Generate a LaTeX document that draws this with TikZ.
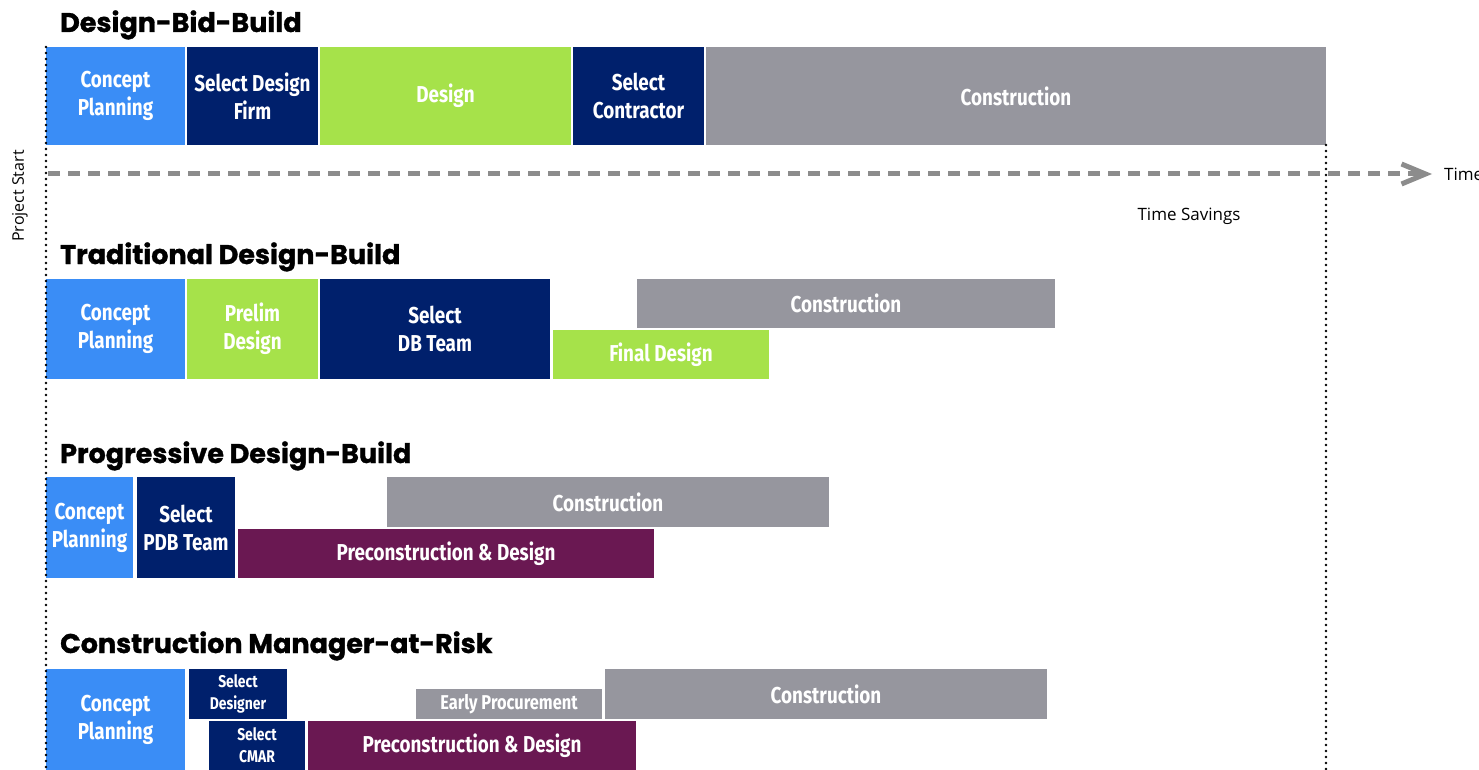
\documentclass[tikz,border=0pt]{standalone}
\usepackage{fontspec}
\usepackage{tikz}
\usetikzlibrary{arrows.meta}
\newfontfamily\headfont[BoldFeatures={FakeBold=1.2}]{Poppins}
\newfontfamily\boxfont[FakeStretch=0.82]{Fira Sans}
\newfontfamily\notefont{Open Sans}
\definecolor{planblue} {RGB} {58, 141, 246}
\definecolor{navy1} {RGB} {0, 32, 108}
\definecolor{lime1} {RGB} {166, 226, 74}
\definecolor{gray1} {RGB} {150, 150, 158}
\definecolor{plum1} {RGB} {106, 24, 82}
\definecolor{arrowgray} {RGB} {140, 140, 140}
\tikzset{
  stagebox/.style={anchor=north west, inner sep=0pt, outer sep=0pt, text=white, align=center,
    font=\boxfont\bfseries\fontsize{23}{28}\selectfont},
  smallbox/.style={stagebox, font=\boxfont\bfseries\fontsize{17}{22}\selectfont},
  rowtitle/.style={anchor=base west, inner sep=0pt, font=\headfont\bfseries\fontsize{27}{32}\selectfont},
  notetext/.style={inner sep=0pt, font=\notefont\fontsize{17}{20}\selectfont},
  timeline/.style={arrowgray, line width=5pt, dash pattern=on 12pt off 8pt,
    -{Straight Barb[length=24pt, width=20pt]}},
  startline/.style={black, line width=2.8pt, line cap=round, dash pattern=on 0pt off 6pt}
}
\begin{document}
\begin{tikzpicture}[x=1pt, y=-1pt]
  \useasboundingbox (0,0) rectangle (1479,770);
  % Design-Bid-Build
  \node[rowtitle] (dbbTitle) at (60,32) {Design-Bid-Build};
  \node[stagebox, fill=planblue, minimum width=139pt, minimum height=98pt] (dbbConcept) at (46,47) {Concept\\Planning};
  \node[stagebox, fill=navy1, minimum width=131pt, minimum height=98pt] (dbbSelDesign) at (187,47) {Select Design\\Firm};
  \node[stagebox, fill=lime1, minimum width=251pt, minimum height=98pt] (dbbDesign) at (320,47) {Design};
  \node[stagebox, fill=navy1, minimum width=131pt, minimum height=98pt] (dbbSelContr) at (573,47) {Select\\Contractor};
  \node[stagebox, fill=gray1, minimum width=620pt, minimum height=98pt] (dbbConstr) at (706,47) {Construction};
  % time axis
  \coordinate (tStart) at (48,174);
  \node[notetext, anchor=west] (time) at (1444,174) {Time};
  \draw[timeline] (tStart) -- ([xshift=-12pt]time.west);
  \node[notetext] (savings) at (1189,216) {Time Savings};
  \node[notetext, rotate=90, font=\notefont\fontsize{16}{18}\selectfont] (projStart) at (20,196) {Project Start};
  % Traditional Design-Build
  \node[rowtitle] (tdbTitle) at (60,264) {Traditional Design-Build};
  \node[stagebox, fill=planblue, minimum width=139pt, minimum height=100pt] (tdbConcept) at (46,279) {Concept\\Planning};
  \node[stagebox, fill=lime1, minimum width=131pt, minimum height=100pt] (tdbPrelim) at (187,279) {Prelim\\Design};
  \node[stagebox, fill=navy1, minimum width=230pt, minimum height=100pt] (tdbSelTeam) at (320,279) {Select\\DB Team};
  \node[stagebox, fill=gray1, minimum width=418pt, minimum height=49pt] (tdbConstr) at (637,279) {Construction};
  \node[stagebox, fill=lime1, minimum width=216pt, minimum height=49pt] (tdbFinal) at (553,330) {Final Design};
  % Progressive Design-Build
  \node[rowtitle] (pdbTitle) at (60,463) {Progressive Design-Build};
  \node[stagebox, fill=planblue, minimum width=87pt, minimum height=101pt] (pdbConcept) at (46,477) {Concept\\Planning};
  \node[stagebox, fill=navy1, minimum width=98pt, minimum height=101pt] (pdbSelTeam) at (137,477) {Select\\PDB Team};
  \node[stagebox, fill=gray1, minimum width=442pt, minimum height=50pt] (pdbConstr) at (387,477) {Construction};
  \node[stagebox, fill=plum1, minimum width=416pt, minimum height=49pt] (pdbPrecon) at (238,529) {Preconstruction \& Design};
  % Construction Manager-at-Risk
  \node[rowtitle] (cmarTitle) at (60,653) {Construction Manager-at-Risk};
  \node[stagebox, fill=planblue, minimum width=139pt, minimum height=101pt] (cmarConcept) at (46,669) {Concept\\Planning};
  \node[smallbox, fill=navy1, minimum width=98pt, minimum height=50pt] (cmarSelDes) at (189,669) {Select\\Designer};
  \node[smallbox, fill=navy1, minimum width=96pt, minimum height=49pt] (cmarSelCmar) at (209,721) {Select\\CMAR};
  \node[stagebox, fill=gray1, minimum width=186pt, minimum height=30pt, font=\boxfont\bfseries\fontsize{20}{24}\selectfont] (cmarEarly) at (416,689) {Early Procurement};
  \node[stagebox, fill=gray1, minimum width=442pt, minimum height=50pt] (cmarConstr) at (605,669) {Construction};
  \node[stagebox, fill=plum1, minimum width=328pt, minimum height=49pt] (cmarPrecon) at (308,721) {Preconstruction \& Design};
  % start and savings lines
  \coordinate (psEnd) at (46,770);
  \coordinate (tsEnd) at (1326,770);
  \draw[startline] (dbbConcept.north west) -- (psEnd);
  \draw[startline] (dbbConstr.south east) -- (tsEnd);
\end{tikzpicture}
\end{document}
